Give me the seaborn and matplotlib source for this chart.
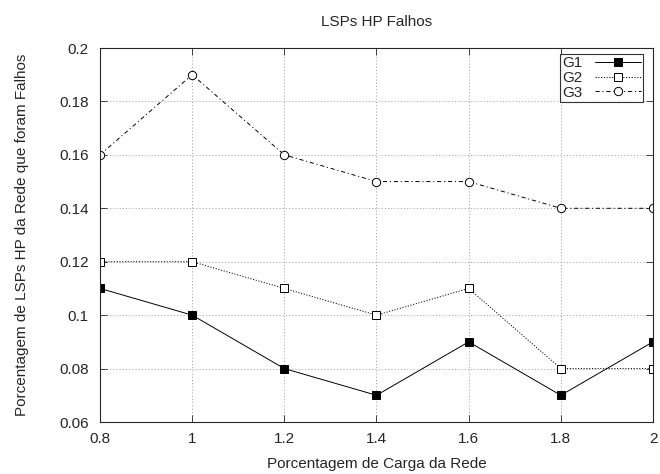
import matplotlib
matplotlib.use("Agg")
import matplotlib.pyplot as plt
import seaborn as sns
import pandas as pd

x = [0.8, 1.0, 1.2, 1.4, 1.6, 1.8, 2.0]
g1 = [0.11, 0.10, 0.08, 0.07, 0.09, 0.07, 0.09]
g2 = [0.12, 0.12, 0.11, 0.10, 0.11, 0.08, 0.08]
g3 = [0.16, 0.19, 0.16, 0.15, 0.15, 0.14, 0.14]
xticks = [0.8, 1, 1.2, 1.4, 1.6, 1.8, 2]
yticks = [0.06, 0.08, 0.1, 0.12, 0.14, 0.16, 0.18, 0.2]

df = pd.DataFrame({"x": x * 3, "y": g1 + g2 + g3,
                   "s": ["G1"] * 7 + ["G2"] * 7 + ["G3"] * 7})

sns.set_style("ticks")
plt.rcParams["font.family"] = ["Liberation Sans", "DejaVu Sans"]
plt.rcParams["lines.scale_dashes"] = False

fig = plt.figure(figsize=(6.6, 4.74), dpi=100)
ax = fig.add_axes([100 / 660, (474 - 422) / 474, 553 / 660, 374 / 474])

styles = {
    "G1": dict(linestyle="-", marker="s", mfc="black", mec="black", markersize=5.5),
    "G2": dict(linestyle=(0, (0.8, 1.2)), marker="s", mfc="white", mec="black", markersize=5.5),
    "G3": dict(linestyle=(0, (3, 2, 0.8, 2)), marker="o", mfc="white", mec="black", markersize=6),
}
for name, st in styles.items():
    sub = df[df["s"] == name]
    sns.lineplot(data=sub, x="x", y="y", ax=ax, color="black", linewidth=0.7,
                 label=name, markeredgewidth=0.7, **st)

ax.set_xlim(0.8, 2.0)
ax.set_ylim(0.06, 0.2)
ax.set_xticks(xticks)
ax.set_xticklabels([f"{v:g}" for v in xticks])
ax.set_yticks(yticks)
ax.set_yticklabels([f"{v:g}" for v in yticks])
ax.grid(True, color="#999999", linestyle=(0, (0.8, 1.5)), linewidth=0.6)
ax.tick_params(direction="in", length=5, labelsize=11, width=0.6, top=True, right=True, pad=7)
ax.tick_params(axis="y", pad=8)
for sp in ax.spines.values():
    sp.set_linewidth(0.8)
ax.set_xlabel("Porcentagem de Carga da Rede", fontsize=11, labelpad=8)
ax.set_ylabel("Porcentagem de LSPs HP da Rede que foram Falhos", fontsize=11, labelpad=22)
ax.set_title("LSPs HP Falhos", fontsize=11, pad=16)

leg = ax.legend(loc="upper right", bbox_to_anchor=(1 - 10 / 553, 1 - 6 / 374),
                frameon=True, fancybox=False, edgecolor="black",
                fontsize=11, handlelength=3.0, borderpad=0.15, labelspacing=0.05,
                handletextpad=0.8, borderaxespad=0.0, markerfirst=False)
leg.get_frame().set_linewidth(0.8)

fig.savefig("out.png", dpi=100)
